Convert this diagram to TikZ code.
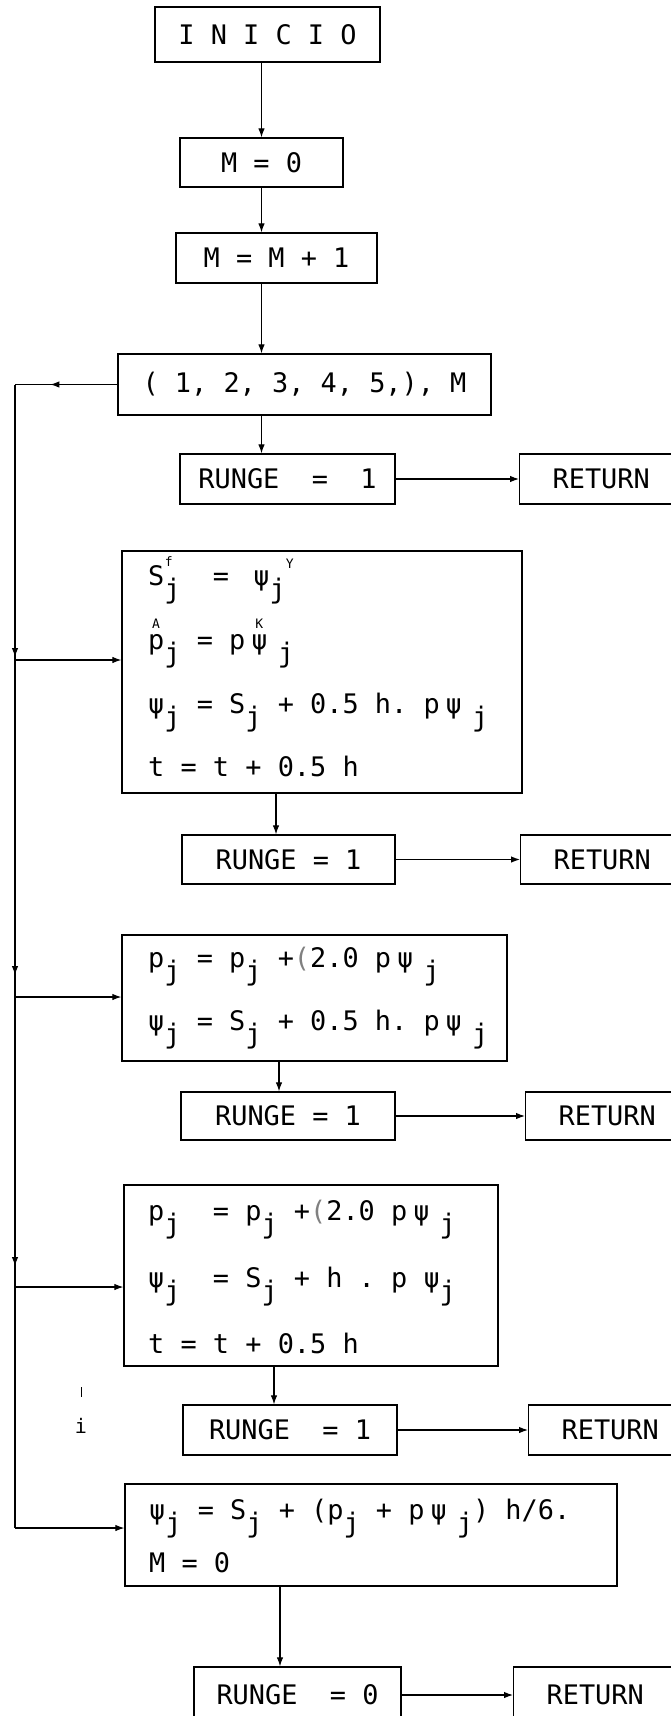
\documentclass[tikz,border=0pt]{standalone}
\usepackage{fontspec}
\setmainfont{DejaVu Sans Mono}
\usetikzlibrary{arrows.meta,decorations.markings}
\newcommand\subj[1][]{\rlap{\hspace{0.02em}\raisebox{0.7em}{\fontsize{13}{13}\selectfont #1}}\raisebox{-0.5em}{j}}
\newcommand\ovm[3][0pt]{\rlap{\hspace{#1}\raisebox{0.78em}{\fontsize{13}{13}\selectfont #3}}#2}
\newcommand\supm[1]{\raisebox{0.6em}{\fontsize{13}{13}\selectfont #1}}
\newcommand\psk{\kern6pt ψ\kern-6pt}
\begin{document}
\begin{tikzpicture}[x=1pt, y=-1pt, font=\fontsize{26.9}{32}\selectfont,
  box/.style={draw, line width=1.3pt, rectangle, inner sep=0pt},
  ret/.style={box, anchor=west, text width=130pt, align=left, inner xsep=33pt},
  flow/.style={line width=1.1pt, -{Latex[length=9pt,width=6.5pt]}},
  wire/.style={line width=1.1pt},
  txt/.style={anchor=base west, inner sep=0pt},
  marrow/.style={postaction={decorate}, decoration={markings, mark=at position #1 with {\arrow{Latex[length=9pt,width=6.5pt]}}}}]
\useasboundingbox (0,0) rectangle (671,1716);
\clip (0,0) rectangle (671,1716);

% boxes
\node[box, minimum width=225pt, minimum height=55pt] (ini) at (267.5,34.5) {I N I C I O};
\node[box, minimum width=163pt, minimum height=49pt] (m0) at (261.5,162.5) {M = 0};
\node[box, minimum width=201pt, minimum height=50pt] (m1) at (276.5,258) {M = M + 1};
\node[box, minimum width=373pt, minimum height=61pt] (b1) at (304.5,384.5) {( 1, 2, 3, 4, 5,), M};

\node[box, minimum width=215pt, minimum height=50pt] (r1) at (287.5,479) {RUNGE\ \ =\ \ 1};
\node[ret, minimum height=50pt] (t1) at (519,479) {RETURN};

\node[box, minimum width=400pt, minimum height=242pt] (b2) at (322,672) {};
\node[txt] (b2a) at (148,585) {S\subj[f]\ \ =\ \kern8pt ψ\subj\supm{Y}};
\node[txt] (b2b) at (148,649) {\ovm[4pt]{p}{A}\subj\ =\ p\kern6pt\ovm[4pt]{ψ}{K}\kern-6pt\ \subj};
\node[txt] (b2c) at (148,713) {ψ\subj\ =\ S\subj\ +\ 0.5\ h.\ p\psk\ \subj};
\node[txt] (b2d) at (148,776) {t = t + 0.5 h};

\node[box, minimum width=213pt, minimum height=49pt] (r2) at (288.5,859.5) {RUNGE = 1};
\node[ret, minimum height=49pt] (t2) at (520,859.5) {RETURN};

\node[box, minimum width=385pt, minimum height=126pt] (b3) at (314.5,998) {};
\node[txt] (b3a) at (148,967) {p\subj\ =\ p\subj\ +{\color{gray}(}2.0\ p\psk\ \subj};
\node[txt] (b3b) at (148,1030) {ψ\subj\ =\ S\subj\ +\ 0.5\ h.\ p\psk\ \subj};

\node[box, minimum width=214pt, minimum height=48pt] (r3) at (288,1116) {RUNGE = 1};
\node[ret, minimum height=48pt] (t3) at (525,1116) {RETURN};

\node[box, minimum width=374pt, minimum height=181pt] (b4) at (311,1275.5) {};
\node[txt] (b4a) at (148,1220) {p\subj\ \ =\ p\subj\ +{\color{gray}(}2.0\ p\psk\ \subj};
\node[txt] (b4b) at (148,1287) {ψ\subj\ \ =\ S\subj\ +\ h\ .\ p\ ψ\subj};
\node[txt] (b4c) at (148,1353) {t = t + 0.5 h};

\node[box, minimum width=214pt, minimum height=50pt] (r4) at (290,1430) {RUNGE\ \ = 1};
\node[ret, minimum height=50pt] (t4) at (528,1430) {RETURN};

\node[box, minimum width=492pt, minimum height=102pt] (b5) at (371,1535) {};
\node[txt] (b5a) at (149,1519) {ψ\subj\ =\ S\subj\ +\ (p\subj\ +\ p\psk\ \subj)\ h/6.};
\node[txt] (b5b) at (149,1572) {M = 0};

\node[box, minimum width=207pt, minimum height=56pt] (r5) at (297.5,1695) {RUNGE\ \ = 0};
\node[ret, minimum height=56pt] (t5) at (513,1695) {RETURN};

% stray mark
\node[anchor=base, inner sep=0pt, font=\fontsize{20}{20}\selectfont] (stray) at (81,1433) {i};
\draw[line width=1pt] (81,1387) -- (81,1397);

% main vertical flow
\coordinate (a2) at (276,0);
\coordinate (a3) at (279,0);
\coordinate (a4) at (274,0);
\coordinate (a5) at (280,0);
\draw[flow] (ini.south -| m0.north) -- (m0.north);
\draw[flow] (m0.south) -- (m0.south |- m1.north);
\draw[flow] (m1.south -| m0.south) -- (m0.south |- b1.north);
\draw[flow] (b1.south -| m0.south) -- (m0.south |- r1.north);
\draw[flow] (b2.south -| a2) -- (a2 |- r2.north);
\draw[flow] (b3.south -| a3) -- (a3 |- r3.north);
\draw[flow] (b4.south -| a4) -- (a4 |- r4.north);
\draw[flow] (b5.south -| a5) -- (a5 |- r5.north);

% to RETURN
\draw[flow] (r1.east) -- (t1.west);
\draw[flow] (r2.east) -- (t2.west);
\draw[flow] (r3.east) -- (t3.west);
\draw[flow] (r4.east) -- (t4.west);
\draw[flow] (r5.east) -- (t5.west);

% left loop line
\coordinate (c0) at (15,384.5);
\coordinate (j1) at (15,660);
\coordinate (j2) at (15,997);
\coordinate (j3) at (15,1287);
\coordinate (j4) at (15,1528);
\draw[wire, marrow=67pt] (b1.west) -- (c0);
\draw[wire, marrow=-3pt] (c0) -- (j1);
\draw[wire, marrow=-22pt] (j1) -- (j2);
\draw[wire, marrow=-21pt] (j2) -- (j3);
\draw[wire] (j3) -- (j4);
\draw[flow] (j1) -- (j1 -| b2.west);
\draw[flow] (j2) -- (j2 -| b3.west);
\draw[flow] (j3) -- (j3 -| b4.west);
\draw[flow] (j4) -- (j4 -| b5.west);
\end{tikzpicture}
\end{document}
